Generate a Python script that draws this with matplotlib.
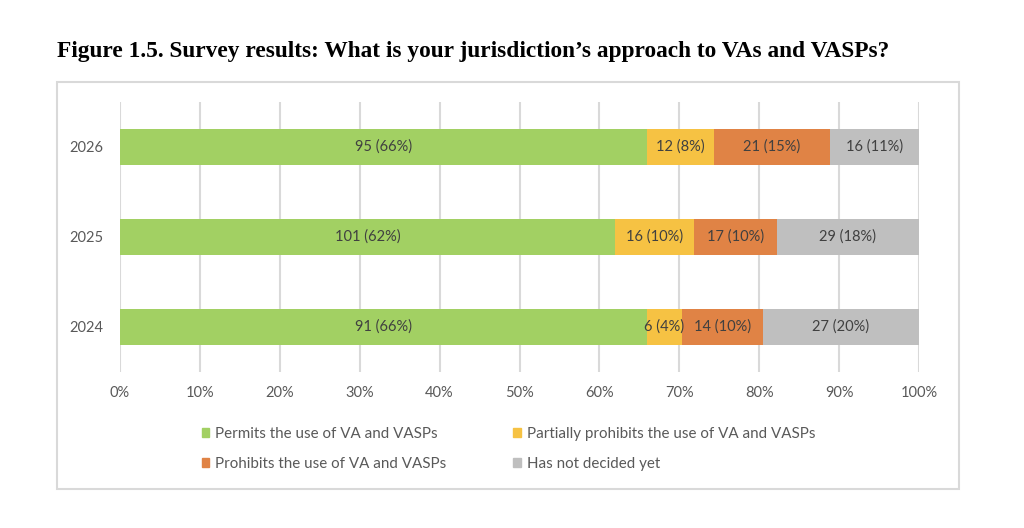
import numpy as np
import matplotlib.pyplot as plt
from matplotlib.patches import Rectangle, Patch

# data
years = ['2024', '2025', '2026']
permits = [91, 101, 95]
partial = [6, 16, 12]
prohibits = [14, 17, 21]
undecided = [27, 29, 16]

labels = ['Permits the use of VA and VASPs',
          'Partially prohibits the use of VA and VASPs',
          'Prohibits the use of VA and VASPs',
          'Has not decided yet']
colors = ['#A2D063', '#F6C243', '#E08345', '#BFBFBF']

counts = np.array([permits, partial, prohibits, undecided], dtype=float)
totals = counts.sum(axis=0)
shares = counts / totals

fig = plt.figure(figsize=(10.24, 5.28), dpi=100)
ax = fig.add_axes([120/1024, 1 - 372/528, 799/1024, 270/528])

font = 'Lato'
y = np.arange(len(years))
left = np.zeros(len(years))
for i in range(4):
    ax.barh(y, shares[i], left=left, height=0.4, color=colors[i], label=labels[i], zorder=3)
    for j in range(len(years)):
        pct = round(shares[i][j] * 100)
        ax.text(left[j] + shares[i][j] / 2, y[j], f'{int(counts[i][j])} ({pct}%)',
                ha='center', va='center', fontsize=10.5, color='#404040', family=font, zorder=4)
    left += shares[i]

ax.set_xlim(0, 1)
ax.set_ylim(-0.5, 2.5)
ax.set_xticks(np.arange(0, 1.01, 0.1))
ax.set_xticklabels([f'{int(v)}%' for v in np.arange(0, 101, 10)], family=font, fontsize=10.5, color='#595959')
ax.set_yticks(y)
ax.set_yticklabels(years, family=font, fontsize=10.5, color='#595959')
ax.tick_params(length=0, pad=10)
ax.tick_params(axis='y', pad=12)
ax.grid(axis='x', color='#D9D9D9', linewidth=1.5, zorder=0)
for s in ax.spines.values():
    s.set_visible(False)

# legend ordered row by row, matplotlib fills columns first
h = [Patch(color=c) for c in colors]
order = [0, 2, 1, 3]
fig.legend([h[k] for k in order], [labels[k] for k in order], ncol=2,
           loc='center left', bbox_to_anchor=(188/1024, 1 - 449/528), frameon=False,
           prop={'family': font, 'size': 10.9}, labelcolor='#595959',
           handlelength=0.5, handleheight=0.5, handletextpad=0.4,
           columnspacing=4.4, labelspacing=1.05)

fig.patches.append(Rectangle((57/1024, 1 - 489/528), 902/1024, 407/528,
                             transform=fig.transFigure, fill=False,
                             edgecolor='#D9D9D9', linewidth=1.5))

fig.text(57/1024, 1 - 51/528,
         'Figure 1.5. Survey results: What is your jurisdiction\u2019s approach to VAs and VASPs?',
         family='Liberation Serif', weight='bold', fontsize=16.8, va='center', ha='left', color='black')

fig.savefig('out.png', dpi=100)
